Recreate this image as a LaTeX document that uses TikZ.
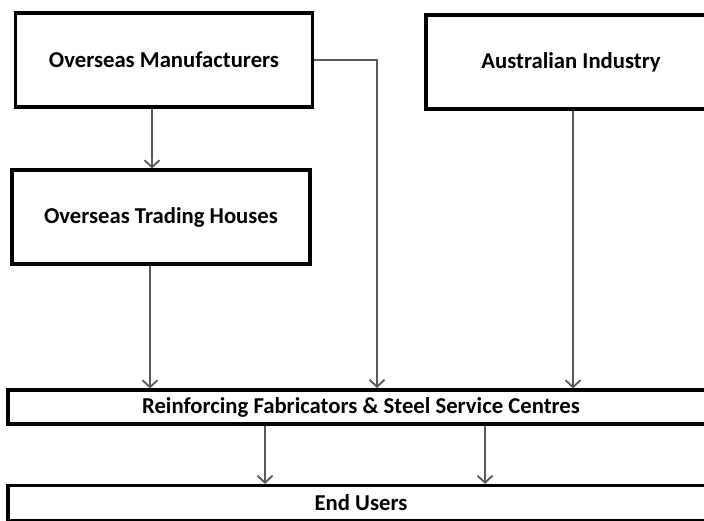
\documentclass[tikz,border=0pt]{standalone}
\usepackage{fontspec}
\setmainfont{Carlito}
\usetikzlibrary{arrows.meta}
\tikzset{
  box/.style={draw=black, line width=3.2pt, fill=white, font=\bfseries\fontsize{22.7}{26}\selectfont, inner sep=0pt},
  flow/.style={draw=black!65, line width=1.8pt, -{Straight Barb[length=7pt,width=15pt,line width=1.8pt]}}
}
\begin{document}
\begin{tikzpicture}[x=1pt,y=-1pt]
    \useasboundingbox (0,0) rectangle (704,521);
    \clip (0,0) rectangle (704,521);
    \fill[white] (0,0) rectangle (704,521);
    % sources
    \node[box, minimum width=297pt, minimum height=94pt] (manuf) at (164,60) {Overseas Manufacturers};
    \node[box, minimum width=298pt, minimum height=94pt] (trading) at (161,217) {Overseas Trading Houses};
    \node[box, minimum width=290pt, minimum height=94pt] (aus) at (571,62) {Australian Industry};
    % distribution
    \node[box, minimum width=706pt, minimum height=34pt] (reinf) at (361,407) {Reinforcing Fabricators \& Steel Service Centres};
    \node[box, minimum width=706pt, minimum height=35pt] (users) at (361,503) {End Users};
    \coordinate (drop) at (377,388);
    % connectors
    \draw[flow] ([xshift=-12pt]manuf.south) -- ([xshift=-9pt]trading.north);
    \draw[flow] (manuf.east) -| (drop);
    \draw[flow] ([xshift=-11pt]trading.south) -- ([xshift=-11pt]trading.south |- reinf.north);
    \draw[flow] ([xshift=2pt]aus.south) -- ([xshift=2pt]aus.south |- reinf.north);
    \draw[flow] ([xshift=-96pt]reinf.south) -- ([xshift=-96pt]users.north);
    \draw[flow] ([xshift=124pt]reinf.south) -- ([xshift=124pt]users.north);
\end{tikzpicture}
\end{document}
